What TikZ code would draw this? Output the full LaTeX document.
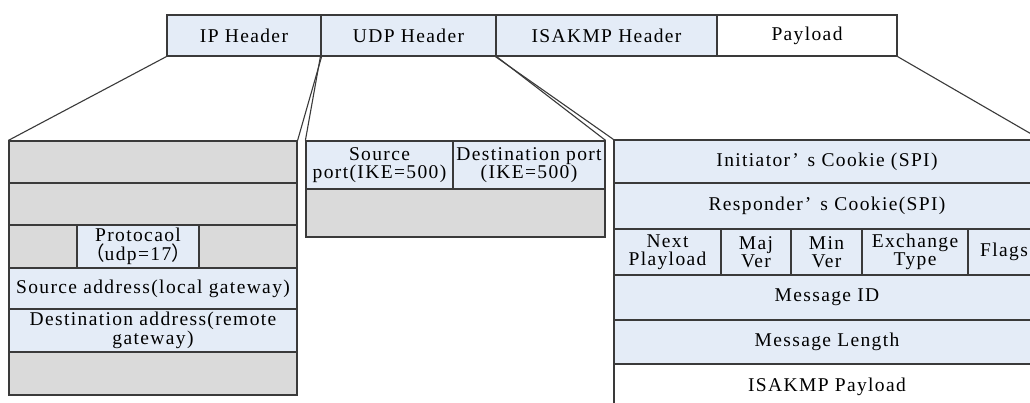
\documentclass[tikz,border=0pt]{standalone}
\usepackage{fontspec}
\setmainfont{Liberation Serif}[LetterSpace=7]
\newfontfamily\cjk{Noto Sans CJK SC}
\definecolor{edge}{HTML}{3A3A3A}
\definecolor{lblue}{HTML}{E4ECF7}
\definecolor{lgray}{HTML}{DADADA}
\tikzset{
  cell/.style={draw=edge, line width=1.2pt, inner sep=0pt, align=center,
    font=\fontsize{19.5}{18.5}\selectfont},
  blue/.style={cell, fill=lblue},
  grey/.style={cell, fill=lgray},
  plain/.style={cell, fill=white},
  link/.style={draw=edge, line width=1.1pt},
}
\begin{document}
\begin{tikzpicture}[x=1pt, y=-1pt]
\useasboundingbox (0,0) rectangle (1030,403);
\clip (0,0) rectangle (1030,403);
\fill[white] (0,0) rectangle (1030,403);

% packet layout
\node[blue, minimum width=154, minimum height=41] (ip)  at (244,35.5)   {IP Header};
\node[blue, minimum width=175, minimum height=41] (udp) at (408.5,35.5) {UDP Header};
\node[blue, minimum width=221, minimum height=41] (isa) at (606.5,35.5) {ISAKMP Header};
\node[plain, minimum width=180, minimum height=41] (pay) at (807,35.5)  {Payload};

% IP header fields
\node[grey, minimum width=288, minimum height=42] (l1) at (153,162)   {};
\node[grey, minimum width=288, minimum height=42] (l2) at (153,204)   {};
\node[grey, minimum width=288, minimum height=43] (l3) at (153,246.5) {};
\node[blue, minimum width=122, minimum height=43] (proto) at (138,246.5)
  {Protocaol\\[1pt]{\cjk （}udp=17{\cjk ）}};
\node[blue, minimum width=288, minimum height=41] (l4) at (153,288.5) {Source address(local gateway)};
\node[blue, minimum width=288, minimum height=43] (l5) at (153,330.5) {Destination address(remote\\gateway)};
\node[grey, minimum width=288, minimum height=43] (l6) at (153,373.5) {};

% UDP header fields
\node[blue, minimum width=147, minimum height=48] (us) at (379.5,165) {Source\\port(IKE=500)};
\node[blue, minimum width=152, minimum height=48] (ud) at (529,165)   {Destination port\\(IKE=500)};
\node[grey, minimum width=299, minimum height=48] (u2) at (455.5,213) {};

% ISAKMP header fields
\node[blue, minimum width=426, minimum height=43] (i1) at (827,161.5) {Initiator’\hspace{9pt}s Cookie (SPI)};
\node[blue, minimum width=426, minimum height=46] (i2) at (827,206)   {Responder’\hspace{9pt}s Cookie(SPI)};
\node[blue, minimum width=107, minimum height=46] (np)  at (667.5,252) {Next\\Playload};
\node[blue, minimum width=70,  minimum height=46] (maj) at (756,252)   {Maj\\Ver};
\node[blue, minimum width=71,  minimum height=46] (min) at (826.5,252) {Min\\Ver};
\node[blue, minimum width=106, minimum height=46] (ex)  at (915,252)   {Exchange\\Type};
\node[blue, minimum width=72,  minimum height=46] (fl)  at (1004,252)  {Flags};
\node[blue, minimum width=426, minimum height=45] (i3) at (827,297.5) {Message ID};
\node[blue, minimum width=426, minimum height=44] (i4) at (827,342)   {Message Length};
\node[plain, minimum width=426, minimum height=46] (i5) at (827,387)  {ISAKMP Payload};

% expansion lines
\draw[link] (ip.south west)  -- (l1.north west);
\draw[link] (ip.south east)  -- (l1.north east);
\draw[link] (udp.south west) -- (us.north west);
\draw[link] (udp.south east) -- (ud.north east);
\draw[link] (isa.south west) -- (i1.north west);
\draw[link] (pay.south east) -- (i1.north east);
\end{tikzpicture}
\end{document}
